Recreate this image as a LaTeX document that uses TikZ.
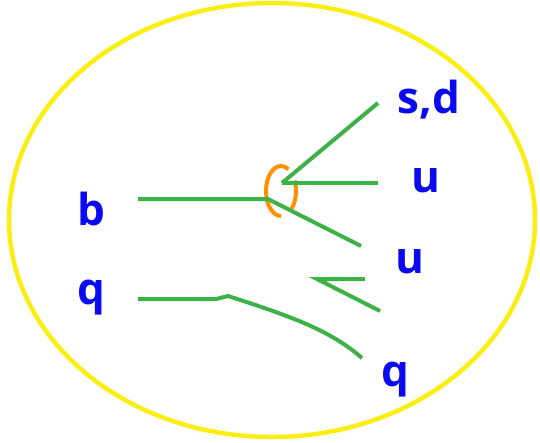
\documentclass[tikz,border=0pt]{standalone}
\usepackage{fontspec}
\setmainfont{Open Sans}
\definecolor{ylw}{RGB}{250,238,20}
\definecolor{grn}{RGB}{60,178,72}
\definecolor{org}{RGB}{255,145,0}
\definecolor{blu}{RGB}{10,10,240}
\begin{document}
\begin{tikzpicture}[x=1pt,y=-1pt,
  lbl/.style={text=blu,font=\fontsize{44}{48}\selectfont\bfseries,anchor=base,inner sep=0pt},
  quark/.style={draw=grn,line width=4pt},
  loop/.style={draw=org,line width=4pt}]
\useasboundingbox (0,0) rectangle (540,442);
\draw[ylw,line width=4.5pt] (272,220) ellipse [x radius=263, y radius=217];
% orange loop
\draw[loop] (281,191) ++(90:15 and 25) arc [start angle=90,end angle=300,x radius=15,y radius=25];
\draw[loop] (281,191) ++(45:15 and 25) arc [start angle=45,end angle=-25,x radius=15,y radius=25];
% quark lines
\draw[quark] (138,199) -- (268,199) -- (361,246);
\draw[quark] (282,183) -- (378,183);
\draw[quark] (282,183) -- (378,103);
\draw[quark] (138,299) -- (216,299) -- (228,296)
  .. controls (290,316) and (330,330) .. (362,358);
\draw[quark] (365,279) -- (317,279) -- (380,311);
% labels
\node[lbl] (b) at (91,225) {b};
\node[lbl] (q1) at (91,304) {q};
\node[lbl] (sd) at (429,113) {s,d};
\node[lbl] (u1) at (426,192) {u};
\node[lbl] (u2) at (410,273) {u};
\node[lbl] (q2) at (395,386) {q};
\end{tikzpicture}
\end{document}
